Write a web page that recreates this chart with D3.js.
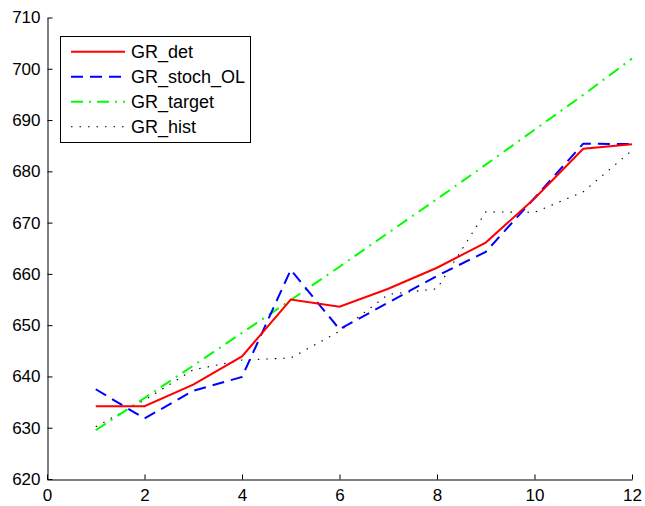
<!DOCTYPE html>
<html>
<head>
<meta charset="utf-8">
<script src="https://cdn.jsdelivr.net/npm/d3@7"></script>
<style>
  html, body { margin: 0; padding: 0; background: #fff; }
  svg { display: block; font-family: "Liberation Sans", Arial, Helvetica, sans-serif; }
</style>
</head>
<body>
<svg id="chart" width="645" height="506"></svg>
<script>
const xValues = [1, 2, 3, 4, 5, 6, 7, 8, 9, 10, 11, 12];
const grDet = [634.2, 634.2, 638.4, 643.9, 655.0, 653.6, 657.1, 661.2, 666.1, 674.7, 684.4, 685.3];
const grStochOL = [637.5, 631.8, 637.2, 639.9, 660.8, 649.2, 654.4, 659.6, 664.3, 674.8, 685.4, 685.3];
const grTarget = [629.5, 635.8, 642.1, 648.5, 654.9, 661.4, 668.0, 674.6, 681.3, 688.1, 694.9, 702.0];
const grHist = [630.2, 635.4, 641.3, 643.2, 643.6, 648.8, 656.0, 657.1, 672.1, 672.0, 676.0, 684.1];
const seriesNames = ["GR_det", "GR_stoch_OL", "GR_target", "GR_hist"];
const xTicks = [0, 2, 4, 6, 8, 10, 12];
const yTicks = [620, 630, 640, 650, 660, 670, 680, 690, 700, 710];

const seriesData = [grDet, grStochOL, grTarget, grHist];
const styles = [
  { color: "#ff0000", width: 2, dash: null },
  { color: "#0000ff", width: 2, dash: "12,7" },
  { color: "#00ff00", width: 2, dash: "12,6,2,6" },
  { color: "#000000", width: 1.1, dash: "1.5,7" }
];

const svg = d3.select("#chart");
const x = d3.scaleLinear().domain([0, 12]).range([47, 632]);
const y = d3.scaleLinear().domain([620, 710]).range([479, 17.5]);

// lines
const line = d3.line().x((d, i) => x(xValues[i])).y(d => y(d));
const order = [3, 2, 1, 0];
order.forEach(k => {
  const st = styles[k];
  svg.append("path")
    .datum(seriesData[k])
    .attr("fill", "none")
    .attr("stroke", st.color)
    .attr("stroke-width", st.width)
    .attr("stroke-dasharray", st.dash)
    .attr("stroke-linejoin", "miter")
    .attr("d", line);
});

// axes
const fontSize = 17;
const xAxis = svg.append("g").attr("transform", "translate(0,479.5)")
  .call(d3.axisBottom(x).tickValues(xTicks).tickFormat(d3.format("d"))
    .tickSize(-5).tickSizeOuter(0).tickPadding(9));
const yAxis = svg.append("g").attr("transform", "translate(47.5,0)")
  .call(d3.axisLeft(y).tickValues(yTicks).tickFormat(d3.format("d"))
    .tickSize(-5).tickSizeOuter(0).tickPadding(7));
[xAxis, yAxis].forEach(g => {
  g.selectAll("text").attr("font-size", fontSize).attr("fill", "#000")
    .attr("font-family", "'Liberation Sans', Arial, Helvetica, sans-serif");
  g.selectAll("line").attr("stroke", "#000");
  g.select(".domain").attr("stroke", "#000");
});

// legend
const lg = svg.append("g");
lg.append("rect").attr("x", 60.5).attr("y", 36.5).attr("width", 190).attr("height", 106)
  .attr("fill", "#fff").attr("stroke", "#000").attr("stroke-width", 1);
const rowY = [51.7, 76.7, 101.7, 126.7];
seriesNames.forEach((name, k) => {
  const st = styles[k];
  lg.append("line").attr("x1", 71).attr("x2", 125).attr("y1", rowY[k]).attr("y2", rowY[k])
    .attr("stroke", st.color).attr("stroke-width", st.width).attr("stroke-dasharray", st.dash);
  lg.append("text").attr("x", 131).attr("y", rowY[k]).attr("dy", "0.36em")
    .attr("font-size", 18).attr("fill", "#000").text(name);
});
</script>
</body>
</html>
